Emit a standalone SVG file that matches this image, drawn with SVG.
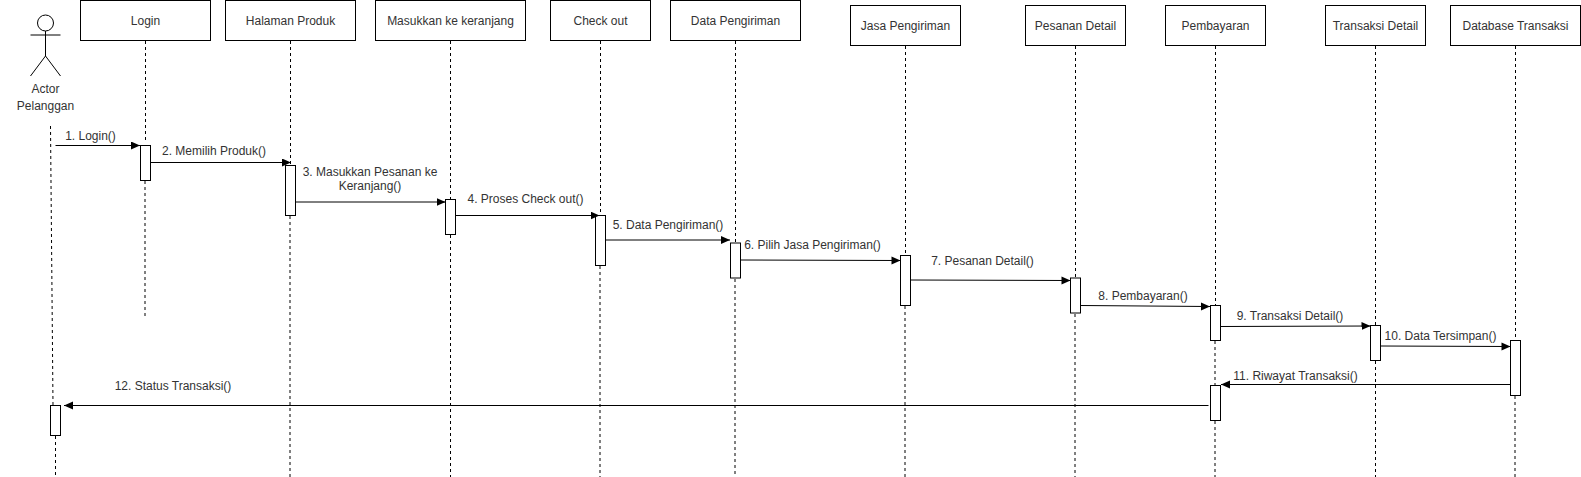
<svg xmlns="http://www.w3.org/2000/svg" width="1581" height="477" viewBox="0 0 1581 477">
<style>
text{font-family:"Liberation Sans",Arial,sans-serif;font-size:12px;fill:#333;text-anchor:middle}
.b{fill:#fff;stroke:#000;stroke-width:1}
.a{fill:#fff;stroke:#000;stroke-width:1}
.l{fill:none;stroke:#000;stroke-width:1;stroke-dasharray:3 3}
.m{fill:none;stroke:#000;stroke-width:1;marker-end:url(#h)}
.s{fill:none;stroke:#000;stroke-width:1}
</style>
<defs><marker id="h" markerUnits="userSpaceOnUse" markerWidth="10" markerHeight="9" refX="9" refY="4" orient="auto"><path d="M0 0L9 4L0 8Z" fill="#000"/></marker></defs>
<rect width="1581" height="477" fill="#fff"/>
<g id="lifelines">
<path class="l" d="M50.500 126L53 405M55.500 436V477"/>
<path class="l" d="M145.500 41V140M145 181V316"/>
<path class="l" d="M290.500 41V165M290 216V477"/>
<path class="l" d="M450.500 41V199M450.500 235V477"/>
<path class="l" d="M600.500 41V215M600 266V477"/>
<path class="l" d="M735.500 41V243M735 279V477"/>
<path class="l" d="M905.500 46V255M905 306V477"/>
<path class="l" d="M1075.500 46V278M1075 314V477"/>
<path class="l" d="M1215.500 46V305M1215 341V385M1215 421V477"/>
<path class="l" d="M1375.500 46V325M1375.500 361V477"/>
<path class="l" d="M1515.500 46V340M1515 396V477"/>
</g>
<g id="actor">
<circle class="b" cx="45.500" cy="23" r="8"/>
<path class="s" d="M45.500 31V56M30.500 35H60.500M45.500 56L30.500 76M45.500 56L60.500 76"/>
<text x="45.500" y="93">Actor</text>
<text x="45.500" y="110">Pelanggan</text>
</g>
<g id="login"><rect class="b" x="80.500" y="0.500" width="130" height="40"/><text x="145.500" y="25">Login</text></g>
<g id="halaman-produk"><rect class="b" x="225.500" y="0.500" width="130" height="40"/><text x="290.500" y="25">Halaman Produk</text></g>
<g id="masukkan"><rect class="b" x="375.500" y="0.500" width="150" height="40"/><text x="450.500" y="25">Masukkan ke keranjang</text></g>
<g id="check-out"><rect class="b" x="550.500" y="0.500" width="100" height="40"/><text x="600.500" y="25">Check out</text></g>
<g id="data-pengiriman"><rect class="b" x="670.500" y="0.500" width="130" height="40"/><text x="735.500" y="25">Data Pengiriman</text></g>
<g id="jasa-pengiriman"><rect class="b" x="850.500" y="5.500" width="110" height="40"/><text x="905.500" y="30">Jasa Pengiriman</text></g>
<g id="pesanan-detail"><rect class="b" x="1025.500" y="5.500" width="100" height="40"/><text x="1075.500" y="30">Pesanan Detail</text></g>
<g id="pembayaran"><rect class="b" x="1165.500" y="5.500" width="100" height="40"/><text x="1215.500" y="30">Pembayaran</text></g>
<g id="transaksi-detail"><rect class="b" x="1325.500" y="5.500" width="100" height="40"/><text x="1375.500" y="30">Transaksi Detail</text></g>
<g id="database-transaksi"><rect class="b" x="1450.500" y="5.500" width="130" height="40"/><text x="1515.500" y="30">Database Transaksi</text></g>
<g id="activations">
<rect class="a" x="140.500" y="145.500" width="10" height="35"/>
<rect class="a" x="285.500" y="165.500" width="10" height="50"/>
<rect class="a" x="445.500" y="199.500" width="10" height="35"/>
<rect class="a" x="595.500" y="215.500" width="10" height="50"/>
<rect class="a" x="730.500" y="243" width="10" height="35"/>
<rect class="a" x="900.500" y="255.500" width="10" height="50"/>
<rect class="a" x="1070.500" y="278" width="10" height="35"/>
<rect class="a" x="1210.500" y="305.500" width="10" height="35"/>
<rect class="a" x="1370.500" y="325.500" width="10" height="35"/>
<rect class="a" x="1510.500" y="340.500" width="10" height="55"/>
<rect class="a" x="1210.500" y="385.500" width="10" height="35"/>
<rect class="a" x="50.500" y="405.500" width="10" height="30"/>
</g>
<g id="connectors">
<path class="m" d="M55.500 145.500H140"/>
<path class="m" d="M150.500 162.500H291"/>
<path class="m" d="M295.500 202H445.500"/>
<path class="m" d="M455.500 215.500H599.500"/>
<path class="m" d="M605.500 240H730"/>
<path class="m" d="M740.500 260L900.500 260.500"/>
<path class="m" d="M910.500 280L1070.500 280.500"/>
<path class="m" d="M1080.500 305.500L1210 306.500"/>
<path class="m" d="M1220.500 326.500L1370.500 326"/>
<path class="m" d="M1380.500 346L1510.500 346.500"/>
<path class="m" d="M1510.500 384.500H1221"/>
<path class="m" d="M1208.500 405.500H64"/>
</g>
<g id="labels">
<text x="90.500" y="140">1. Login()</text>
<text x="214" y="155">2. Memilih Produk()</text>
<text x="370" y="176">3. Masukkan Pesanan ke</text>
<text x="370" y="190">Keranjang()</text>
<text x="525.500" y="203">4. Proses Check out()</text>
<text x="668" y="229">5. Data Pengiriman()</text>
<text x="812.500" y="249">6. Pilih Jasa Pengiriman()</text>
<text x="982.500" y="265">7. Pesanan Detail()</text>
<text x="1143" y="300">8. Pembayaran()</text>
<text x="1290" y="320">9. Transaksi Detail()</text>
<text x="1440.500" y="340">10. Data Tersimpan()</text>
<text x="1295.500" y="380">11. Riwayat Transaksi()</text>
<text x="173" y="390">12. Status Transaksi()</text>
</g>
</svg>
